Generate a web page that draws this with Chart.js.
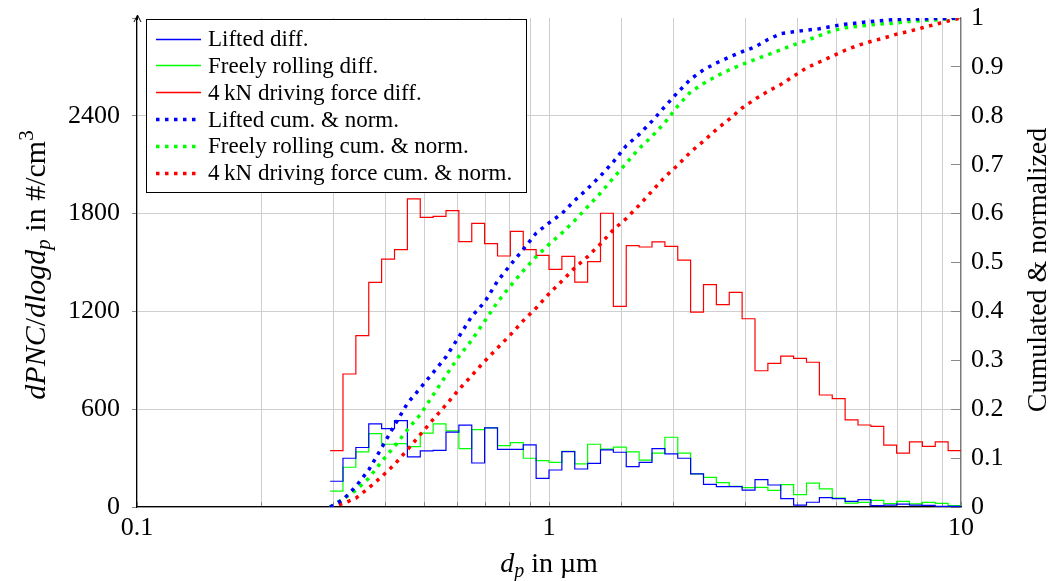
<!DOCTYPE html>
<html>
<head>
<meta charset="utf-8">
<script src="https://cdn.jsdelivr.net/npm/chart.js@4.4.1/dist/chart.umd.min.js"></script>
<style>
  html, body { margin: 0; padding: 0; background: #fff; }
  #wrap { width: 1056px; height: 581px; }
</style>
</head>
<body>
<div id="wrap"><canvas id="myChart" width="1056" height="581"></canvas></div>
<script>
// Bin edges in µm (32 bins per decade), the last one closes the last bin
var binEdges = [0.2943, 0.3162, 0.3398, 0.3652, 0.3924, 0.4217, 0.4532, 0.4870, 0.5233, 0.5623,
    0.6043, 0.6494, 0.6978, 0.7499, 0.8058, 0.8660, 0.9306, 1.0, 1.0746, 1.1548,
    1.2409, 1.3335, 1.4330, 1.5399, 1.6548, 1.7783, 1.9110, 2.0535, 2.2067, 2.3714,
    2.5483, 2.7384, 2.9427, 3.1623, 3.3982, 3.6517, 3.9242, 4.2170, 4.5316, 4.8697,
    5.2330, 5.6234, 6.0430, 6.4938, 6.9783, 7.4989, 8.0584, 8.6596, 9.3057, 10.0];

// dPNC/dlogdp in #/cm3, one value per bin
var liftedDiff = [158, 299, 365, 510, 481, 530, 307, 344, 348, 459,
    502, 270, 485, 354, 354, 381, 176, 227, 340, 233,
    268, 350, 336, 248, 274, 358, 326, 299, 203, 139,
    125, 125, 104, 168, 135, 51, 12, 29, 57, 51,
    35, 45, 8, 12, 18, 12, 10, 4, 4];
var rollingDiff = [98, 244, 338, 450, 385, 389, 371, 453, 510, 467,
    358, 475, 485, 377, 395, 299, 285, 274, 342, 264,
    385, 355, 367, 338, 287, 330, 428, 330, 203, 182,
    150, 127, 119, 121, 102, 137, 76, 147, 111, 54,
    24, 28, 41, 21, 35, 19, 28, 22, 8];
var drivingDiff = [346, 816, 1051, 1378, 1521, 1579, 1890, 1777, 1783, 1818,
    1628, 1740, 1616, 1540, 1691, 1579, 1544, 1458, 1538, 1380,
    1505, 1802, 1231, 1603, 1595, 1626, 1599, 1515, 1196, 1364,
    1241, 1317, 1155, 836, 881, 926, 912, 888, 687, 665,
    534, 503, 495, 380, 331, 399, 372, 399, 346];

// cumulated & normalized, one value per bin edge
var liftedCum = [0, 0.015, 0.042, 0.076, 0.121, 0.167, 0.212, 0.243, 0.275, 0.307,
    0.348, 0.390, 0.419, 0.462, 0.495, 0.527, 0.560, 0.581, 0.600, 0.627,
    0.651, 0.677, 0.706, 0.739, 0.762, 0.789, 0.819, 0.848, 0.875, 0.894,
    0.908, 0.920, 0.931, 0.941, 0.956, 0.968, 0.972, 0.975, 0.978, 0.983,
    0.987, 0.990, 0.993, 0.995, 0.997, 0.998, 0.998, 0.999, 0.999, 1.0];
var rollingCum = [0, 0.016, 0.034, 0.059, 0.093, 0.124, 0.158, 0.189, 0.229, 0.269,
    0.308, 0.341, 0.380, 0.419, 0.452, 0.483, 0.512, 0.537, 0.560, 0.586,
    0.614, 0.642, 0.673, 0.703, 0.733, 0.758, 0.786, 0.820, 0.849, 0.866,
    0.881, 0.894, 0.905, 0.915, 0.925, 0.935, 0.945, 0.954, 0.964, 0.974,
    0.980, 0.983, 0.986, 0.988, 0.990, 0.993, 0.995, 0.996, 0.998, 1.0];
var drivingCum = [0, 0.007, 0.018, 0.039, 0.062, 0.087, 0.117, 0.148, 0.179, 0.209,
    0.240, 0.269, 0.298, 0.325, 0.352, 0.381, 0.407, 0.436, 0.462, 0.489,
    0.512, 0.538, 0.567, 0.590, 0.617, 0.646, 0.675, 0.699, 0.726, 0.748,
    0.772, 0.793, 0.816, 0.834, 0.850, 0.864, 0.881, 0.898, 0.910, 0.922,
    0.934, 0.944, 0.952, 0.959, 0.967, 0.973, 0.980, 0.987, 0.994, 1.0];

var seriesLabels = ['Lifted diff.', 'Freely rolling diff.', '4\u2009kN driving force diff.',
    'Lifted cum. & norm.', 'Freely rolling cum. & norm.', '4\u2009kN driving force cum. & norm.'];
var seriesColors = ['#0000ff', '#00ff00', '#ff0000'];
var xTickLabels = [0.1, 1, 10];
var leftTickStep = 600;
var rightTickStep = 0.1;

const FONT = "'Liberation Serif', 'Times New Roman', serif";
Chart.defaults.font.family = FONT;
Chart.defaults.color = '#000';

// step data: each value holds from its bin edge up to the next one
function stepPoints(values) {
    return binEdges.map((x, i) => ({ x: x, y: values[Math.min(i, values.length - 1)] }));
}
function edgePoints(values) {
    return binEdges.map((x, i) => ({ x: x, y: values[i] }));
}

function diffSet(label, data, color) {
    return {
        label: label, data: stepPoints(data), borderColor: color, backgroundColor: color,
        borderWidth: 1.2, stepped: true, pointRadius: 0, fill: false, yAxisID: 'y', order: 1
    };
}
function cumSet(label, data, color) {
    return {
        label: label, data: edgePoints(data), borderColor: color, backgroundColor: color,
        borderWidth: 3.5, borderDash: [3.5, 5.5], borderCapStyle: 'butt', tension: 0,
        pointRadius: 0, fill: false, yAxisID: 'y1', order: 0
    };
}

// no extra room above/below the vertical scales for their end labels
function fitVertical(width) {
    return function(scale) {
        scale.width = width;
        scale.paddingTop = 0;
        scale.paddingBottom = 0;
    };
}

// draw a list of text pieces (italic, sub/superscript) centred on x
function drawRuns(ctx, runs, cx, baseY) {
    let total = 0;
    runs.forEach(r => { ctx.font = r.font; total += ctx.measureText(r.text).width; });
    let x = cx - total / 2;
    ctx.textAlign = 'left';
    ctx.textBaseline = 'alphabetic';
    runs.forEach(r => {
        ctx.font = r.font;
        ctx.fillText(r.text, x, baseY + (r.dy || 0));
        x += ctx.measureText(r.text).width;
    });
}

const overlay = {
    id: 'overlay',
    afterDraw(chart) {
        const ctx = chart.ctx;
        const area = chart.chartArea;
        ctx.save();

        // arrow on top of the left axis
        ctx.strokeStyle = '#000';
        ctx.lineWidth = 1;
        ctx.beginPath();
        ctx.moveTo(area.left + 0.5, area.top + 2);
        ctx.lineTo(area.left + 0.5, area.top - 3);
        ctx.moveTo(area.left - 3, area.top + 4);
        ctx.lineTo(area.left + 0.5, area.top - 3);
        ctx.lineTo(area.left + 4, area.top + 4);
        ctx.stroke();

        // legend box
        const bx = 146.5, by = 19.5, bw = 380, bh = 173;
        ctx.fillStyle = '#fff';
        ctx.fillRect(bx, by, bw, bh);
        ctx.strokeStyle = '#000';
        ctx.lineWidth = 1;
        ctx.strokeRect(bx, by, bw, bh);
        chart.data.datasets.forEach((ds, i) => {
            const yy = 38.5 + i * 26.85;
            ctx.save();
            ctx.strokeStyle = seriesColors[i % 3];
            ctx.lineWidth = i < 3 ? 1.4 : ds.borderWidth;
            ctx.setLineDash(ds.borderDash || []);
            ctx.lineCap = 'butt';
            ctx.beginPath();
            ctx.moveTo(156, Math.round(yy) + 0.5);
            ctx.lineTo(201, Math.round(yy) + 0.5);
            ctx.stroke();
            ctx.restore();
            ctx.fillStyle = '#000';
            ctx.font = '23px ' + FONT;
            ctx.textAlign = 'left';
            ctx.textBaseline = 'alphabetic';
            ctx.fillText(seriesLabels[i], 208, yy + 7.5);
        });

        ctx.fillStyle = '#000';
        const it = 'italic 28px ' + FONT, up = '28px ' + FONT;
        const itS = 'italic 20px ' + FONT, upS = '20px ' + FONT;

        // x axis title
        drawRuns(ctx, [
            { text: 'd', font: it },
            { text: 'p', font: itS, dy: 5 },
            { text: ' in \u00b5m', font: up }
        ], (area.left + area.right) / 2, 572);

        // left axis title
        const itL = 'italic 30px ' + FONT, upL = '30px ' + FONT;
        const itLS = 'italic 21px ' + FONT, upLS = '21px ' + FONT;
        ctx.save();
        ctx.translate(45, 265);
        ctx.rotate(-Math.PI / 2);
        drawRuns(ctx, [
            { text: 'dPNC', font: itL },
            { text: '/', font: upL },
            { text: 'dlogd', font: itL },
            { text: 'p', font: itLS, dy: 5 },
            { text: ' in #/cm', font: upL },
            { text: '3', font: upLS, dy: -12 }
        ], 0, 0);
        ctx.restore();

        // right axis title
        ctx.save();
        ctx.translate(1046, 270);
        ctx.rotate(-Math.PI / 2);
        drawRuns(ctx, [{ text: 'Cumulated & normalized', font: up }], 0, 0);
        ctx.restore();

        ctx.restore();
    }
};

let ctx = document.getElementById('myChart').getContext('2d');
let myChart = new Chart(ctx, {
    type: 'line',
    data: {
        datasets: [
            diffSet(seriesLabels[0], liftedDiff, seriesColors[0]),
            diffSet(seriesLabels[1], rollingDiff, seriesColors[1]),
            diffSet(seriesLabels[2], drivingDiff, seriesColors[2]),
            cumSet(seriesLabels[3], liftedCum, seriesColors[0]),
            cumSet(seriesLabels[4], rollingCum, seriesColors[1]),
            cumSet(seriesLabels[5], drivingCum, seriesColors[2])
        ]
    },
    options: {
        responsive: false,
        animation: false,
        layout: { padding: { top: 18, left: 0, right: 0, bottom: 0 } },
        plugins: { legend: { display: false }, tooltip: { enabled: false } },
        scales: {
            x: {
                type: 'logarithmic',
                min: 0.1,
                max: 10,
                afterFit: function(scale) { scale.height = 74; },
                grid: { color: '#cfcfcf', lineWidth: 1, tickLength: -5, tickColor: '#8a8a8a' },
                border: { color: '#000', width: 1.2 },
                ticks: {
                    autoSkip: false,
                    maxRotation: 0,
                    padding: 11,
                    font: { size: 26 },
                    color: '#000',
                    callback: function(value) {
                        return xTickLabels.some(t => Math.abs(t - value) < 1e-9) ? String(value) : '';
                    }
                }
            },
            y: {
                position: 'left',
                min: 0,
                max: 3000,
                afterFit: fitVertical(137),
                grid: {
                    color: function(c) { return c.tick && c.tick.value >= 3000 ? 'rgba(0,0,0,0)' : '#cfcfcf'; },
                    lineWidth: 1, tickLength: 5, tickColor: '#8a8a8a'
                },
                border: { color: '#000', width: 1.2 },
                ticks: {
                    stepSize: leftTickStep,
                    padding: 12,
                    font: { size: 26 },
                    color: '#000',
                    callback: function(value) { return value >= 3000 ? '' : value; }
                }
            },
            y1: {
                position: 'right',
                min: 0,
                max: 1,
                afterFit: fitVertical(95),
                grid: { drawOnChartArea: false, tickLength: -10, tickColor: '#8a8a8a' },
                border: { color: '#7a7a7a', width: 1.2 },
                ticks: {
                    stepSize: rightTickStep,
                    padding: 20,
                    font: { size: 26 },
                    color: '#000',
                    callback: function(value) { return String(Number(value.toFixed(1))); }
                }
            }
        }
    },
    plugins: [overlay]
});
</script>
</body>
</html>
